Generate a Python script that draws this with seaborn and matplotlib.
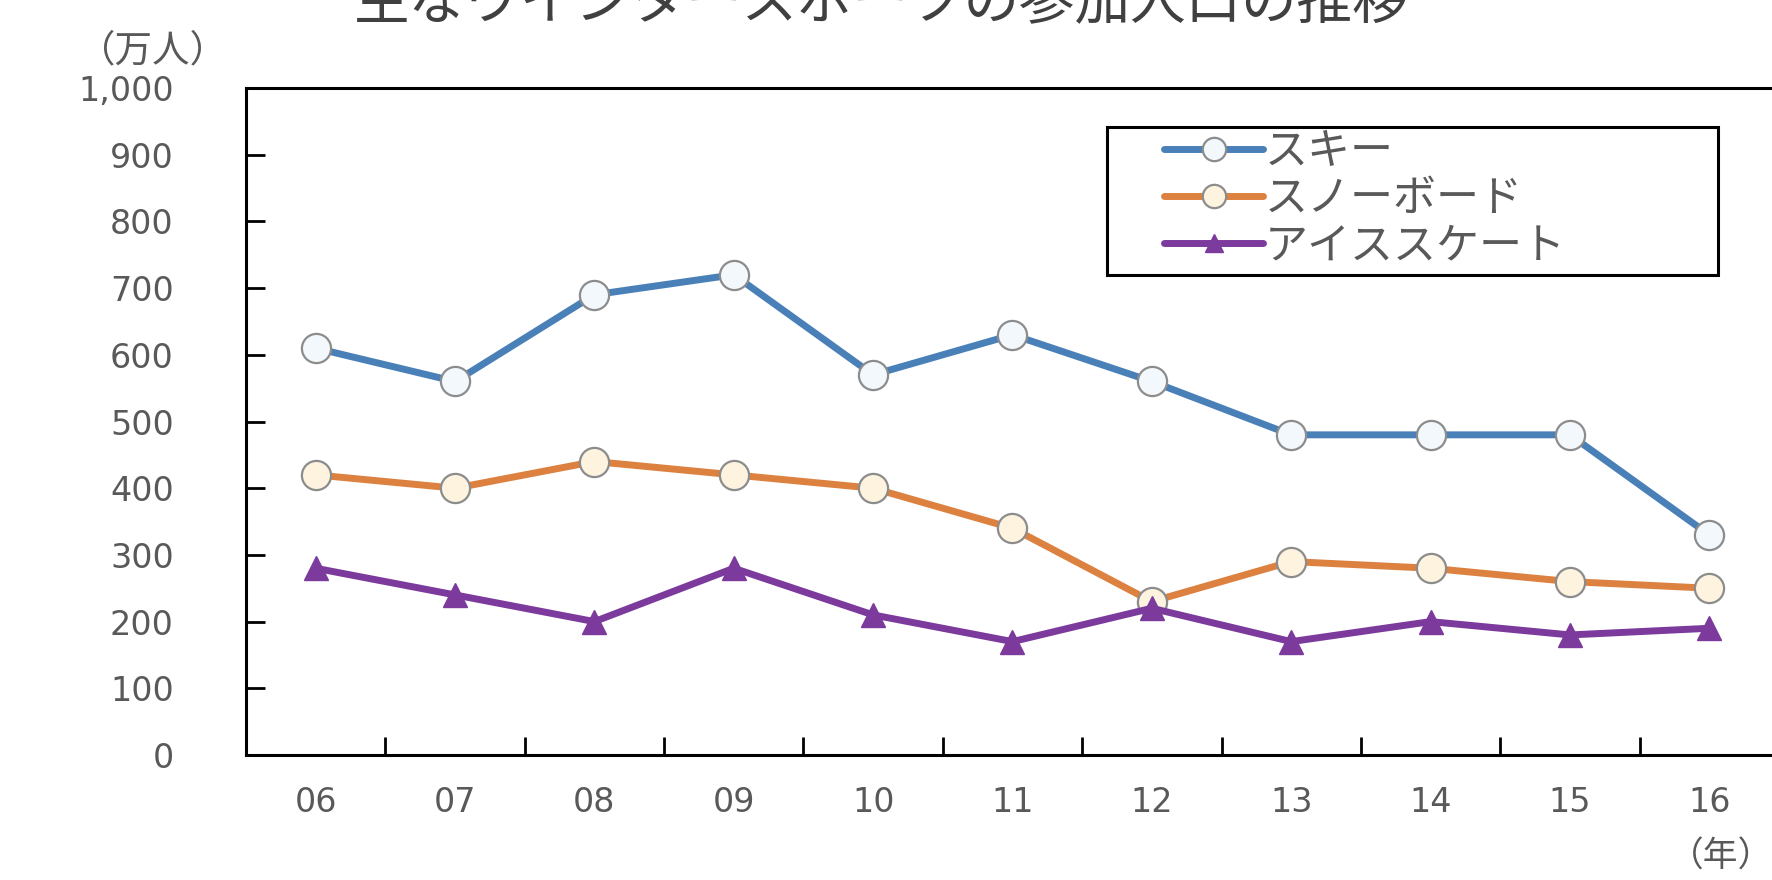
import matplotlib
matplotlib.use("Agg")
import matplotlib.pyplot as plt
from matplotlib.lines import Line2D
from matplotlib.patches import Rectangle
from matplotlib.ticker import FixedLocator, FuncFormatter
import seaborn as sns
import pandas as pd

# Participation figures (10,000 people) by year
years = ["06", "07", "08", "09", "10", "11", "12", "13", "14", "15", "16"]
ski = [610, 560, 690, 720, 570, 630, 560, 480, 480, 480, 330]
snowboard = [420, 400, 440, 420, 400, 340, 230, 290, 280, 260, 250]
ice_skate = [280, 240, 200, 280, 210, 170, 220, 170, 200, 180, 190]
series_names = ["スキー", "スノーボード", "アイススケート"]
y_ticks = [0, 100, 200, 300, 400, 500, 600, 700, 800, 900, 1000]

sns.set_theme(style="white")
plt.rcParams["font.family"] = ["DejaVu Sans", "Noto Sans CJK JP"]
JP = ["Noto Sans CJK JP", "DejaVu Sans"]

TXT = "#595959"
styles = {
    "スキー": dict(color="#4a80b8", marker="o", mfc="#f2f8fc", mec="#8c8c8c", ms=21, mew=1.6),
    "スノーボード": dict(color="#dd8140", marker="o", mfc="#fdf3df", mec="#8c8c8c", ms=21, mew=1.6),
    "アイススケート": dict(color="#7b3a9c", marker="^", mfc="#7b3a9c", mec="#7b3a9c", ms=17, mew=1.0),
}

pos = list(range(len(years)))
df = pd.DataFrame({
    "pos": pos * 3,
    "value": ski + snowboard + ice_skate,
    "series": [series_names[0]] * len(years) + [series_names[1]] * len(years) + [series_names[2]] * len(years),
})

W, H = 1772, 880
fig = plt.figure(figsize=(W / 100, H / 100), dpi=100)
ax = fig.add_axes([246 / W, 1 - 755 / H, (1779 - 246) / W, (755 - 88) / H])

for name in series_names:
    st = styles[name]
    sub = df[df["series"] == name]
    sns.lineplot(data=sub, x="pos", y="value", ax=ax, color=st["color"], linewidth=5,
                 marker=st["marker"], markersize=st["ms"], markerfacecolor=st["mfc"],
                 markeredgecolor=st["mec"], markeredgewidth=st["mew"], sort=False,
                 legend=False, zorder=3)

ax.set_xlim(-0.5, len(years) - 0.5)
ax.set_ylim(0, 1000)
ax.set_xlabel("")
ax.set_ylabel("")

# y axis: inward ticks, comma thousands
ax.yaxis.set_major_locator(FixedLocator(y_ticks))
ax.yaxis.set_major_formatter(FuncFormatter(lambda v, p: f"{int(v):,}"))
ax.tick_params(axis="y", direction="in", length=14, width=2, color="black",
               labelsize=24, labelcolor=TXT, pad=52, left=True)

# x axis: labels at category centres, tick marks between categories
ax.set_xticks(pos)
ax.set_xticklabels(years)
ax.tick_params(axis="x", which="major", length=0, labelsize=24, labelcolor=TXT, pad=22)
ax.xaxis.set_minor_locator(FixedLocator([p + 0.5 for p in pos[:-1]]))
ax.tick_params(axis="x", which="minor", direction="in", length=13, width=2, color="black", bottom=True)

for s in ax.spines.values():
    s.set_color("black")
    s.set_linewidth(2.2)
    s.set_visible(True)
ax.grid(False)

# legend frame: plain rectangle placed in figure coordinates
ax.add_patch(Rectangle((1107 / W, 1 - 275 / H), (1718 - 1107) / W, (275 - 127) / H,
                       transform=fig.transFigure, fill=True, facecolor="white",
                       edgecolor="black", linewidth=2.2, zorder=4, clip_on=False))

handles = [Line2D([0], [0], color=styles[n]["color"], lw=5, marker=styles[n]["marker"],
                  ms=styles[n]["ms"] * 0.8, mfc=styles[n]["mfc"], mec=styles[n]["mec"],
                  mew=styles[n]["mew"]) for n in series_names]
leg = ax.legend(handles, series_names, loc="upper left",
                bbox_to_anchor=(1164 / W, 1 - 130 / H), bbox_transform=fig.transFigure,
                frameon=False, prop={"family": JP, "size": 31}, handlelength=2.3,
                handletextpad=0.05, labelspacing=0.07, borderpad=0, borderaxespad=0,
                numpoints=1)
for t in leg.get_texts():
    t.set_color(TXT)
leg.set_zorder(5)

fig.text(881 / W, 1 - 3 / H, "主なウインタースポーツの参加人口の推移", ha="center", va="center",
         fontsize=40, color="#404040", family=JP)
fig.text(153 / W, 1 - 51 / H, "（万人）", ha="center", va="center",
         fontsize=27, color=TXT, family=JP)
fig.text(1721 / W, 1 - 857 / H, "（年）", ha="center", va="center",
         fontsize=25, color=TXT, family=JP)

fig.savefig("out.png", dpi=100)
